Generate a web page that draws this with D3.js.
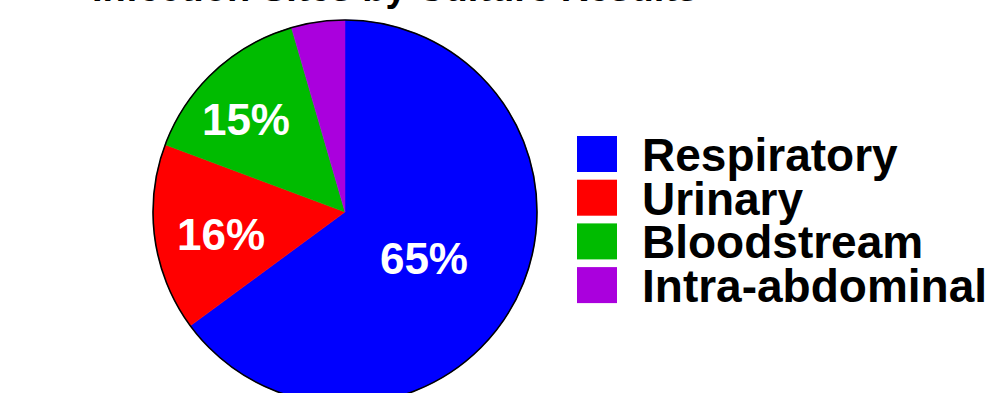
<!DOCTYPE html>
<html>
<head>
<meta charset="utf-8">
<script src="https://cdn.jsdelivr.net/npm/d3@7"></script>
<style>
  html, body { margin: 0; padding: 0; background: #fff; }
  svg { display: block; }
</style>
</head>
<body>
<svg id="chart" width="996" height="393"></svg>
<script>
const categories = ["Respiratory", "Urinary", "Bloodstream", "Intra-abdominal"];
const values = [64.9, 15.8, 14.8, 4.5];
const colors = ["#0000FF", "#FF0000", "#00BB00", "#AA00DD"];
const shownLabels = [true, true, true, false];
const titleText = "Infection Sites by Culture Results";

const svg = d3.select("#chart");
const cx = 345, cy = 212, R = 192;
const font = "'Liberation Sans', Arial, Helvetica, sans-serif";

// title (mostly cut off at top)
svg.append("text")
  .attr("x", 395).attr("y", 0.5)
  .attr("text-anchor", "middle")
  .attr("font-family", font).attr("font-weight", "bold")
  .attr("font-size", 38)
  .text(titleText);

const pie = d3.pie().sort(null).value(d => d)(values);
const arc = d3.arc().innerRadius(0).outerRadius(R);
const g = svg.append("g").attr("transform", `translate(${cx},${cy})`);

g.selectAll("path.slice").data(pie).join("path")
  .attr("class", "slice")
  .attr("d", arc)
  .attr("fill", (d, i) => colors[i])
  .attr("stroke", (d, i) => colors[i])
  .attr("stroke-width", 0.5);

g.append("circle").attr("r", R)
  .attr("fill", "none").attr("stroke", "#000").attr("stroke-width", 1.6);

// label placement (style, per slice)
const labelFrac = [0.476, 0.656, 0.707, 0.7];
const labelAngleShift = [0.06, -0.04, -0.07, 0];
g.selectAll("text.pct").data(pie.filter((d, i) => shownLabels[i])).join("text")
  .attr("class", "pct")
  .attr("transform", d => {
    const a = (d.startAngle + d.endAngle) / 2 + labelAngleShift[d.index];
    const r = R * labelFrac[d.index];
    return `translate(${Math.sin(a) * r},${-Math.cos(a) * r})`;
  })
  .attr("text-anchor", "middle")
  .attr("dy", "0.36em")
  .attr("font-family", font).attr("font-weight", "bold")
  .attr("font-size", 44)
  .attr("fill", "#fff")
  .text(d => Math.round(d.data) + "%");

// legend
const lg = svg.append("g").attr("transform", "translate(577,136)");
const items = lg.selectAll("g").data(categories).join("g")
  .attr("transform", (d, i) => `translate(0,${i * 43.7})`);
items.append("rect")
  .attr("width", 40).attr("height", 36)
  .attr("fill", (d, i) => colors[i]);
items.append("text")
  .attr("x", 65).attr("y", 35)
  .attr("font-family", font).attr("font-weight", "bold")
  .attr("font-size", 46)
  .attr("fill", "#000")
  .text(d => d);
</script>
</body>
</html>
